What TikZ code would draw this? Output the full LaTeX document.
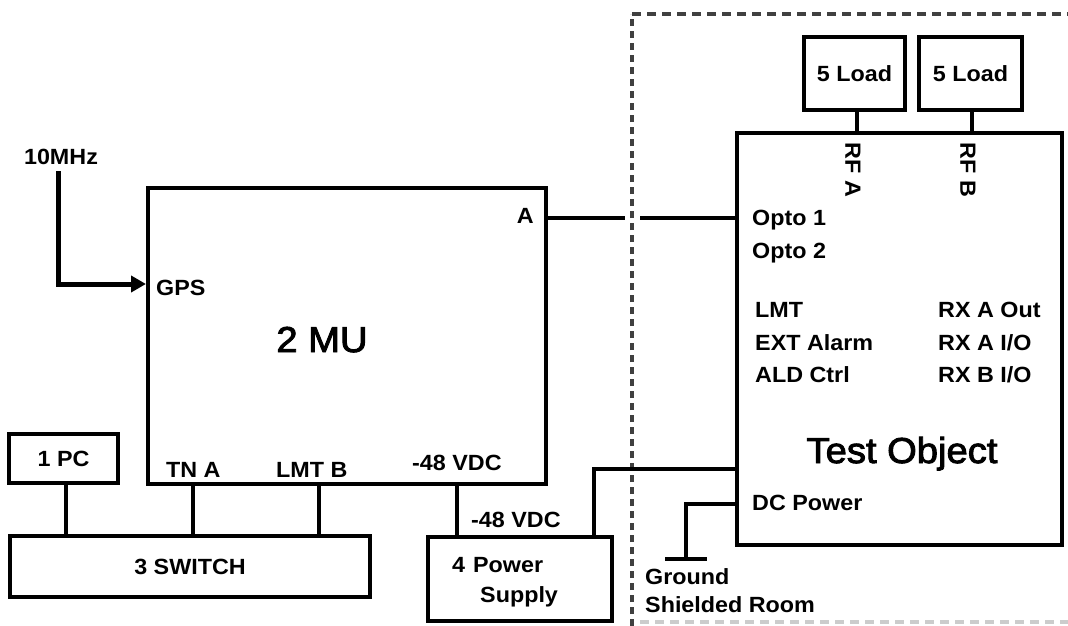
\documentclass[tikz,border=0pt]{standalone}
\usepackage{fontspec}
\setmainfont{Liberation Sans}[FakeStretch=1.06]
\newfontfamily\bigfam{Liberation Sans}[FakeStretch=1.06,FakeBold=2.5]
\usetikzlibrary{arrows.meta}
\newcommand{\smallfont}{\fontsize{22}{26}\selectfont\bfseries}
\newcommand{\bigfont}{\bigfam\fontsize{36}{42}\selectfont}
\begin{document}
\begin{tikzpicture}[x=1pt,y=-1pt,
  box/.style={draw, line width=4pt, rectangle, inner sep=0pt},
  wire/.style={line width=3.5pt},
  lbl/.style={inner sep=0pt, font=\smallfont},
  biglbl/.style={inner sep=0pt, font=\bigfont},
  shield/.style={draw=black!75, line width=3.5pt, dash pattern=on 9pt off 6pt}]
\useasboundingbox (0,0) rectangle (1068,626);
% boxes
\node[box, minimum width=398pt, minimum height=296pt] (mu) at (347,336) {};
\node[box, minimum width=109pt, minimum height=49pt, font=\smallfont] (pc) at (63.5,458.5) {1 PC};
\node[box, minimum width=360pt, minimum height=61pt, font=\smallfont] (sw) at (190,566.5) {3 SWITCH};
\node[box, minimum width=184pt, minimum height=84pt] (ps) at (520,579) {};
\node[box, minimum width=325pt, minimum height=412pt] (to) at (899.5,339) {};
\node[box, minimum width=101pt, minimum height=73pt, font=\smallfont] (la) at (854.5,73.5) {5 Load};
\node[box, minimum width=103pt, minimum height=73pt, font=\smallfont] (lb) at (970.5,73.5) {5 Load};
% shielded room boundary
\coordinate (sTop) at (632,14);
\coordinate (sBot) at (632,626);
\coordinate (sTR) at (1068,14);
\coordinate (sBL) at (640,622);
\coordinate (sBR) at (1068,622);
\draw[shield, dash pattern=on 7pt off 5pt] (sBot) -- (sTop);
\draw[shield] (sTop) -- (sTR);
\draw[shield, draw=black!20] (sBL) -- (sBR);
% labels
\node[lbl, anchor=center] (mhz) at (61,157) {10MHz};
\node[lbl, anchor=base west] (gps) at (156,295) {GPS};
\node[lbl, anchor=base east] (aa) at (534,223) {A};
\node[biglbl, anchor=base] (mulbl) at (322,352) {2 MU};
\node[lbl, anchor=base west] (tna) at (166,477) {TN A};
\node[lbl, anchor=base west] (lmtb) at (276,477) {LMT B};
\node[lbl, anchor=base west] (vdc1) at (412,470) {-48 VDC};
\node[lbl, anchor=base west] (vdc2) at (471,527) {-48 VDC};
\node[lbl, anchor=base west] (pw1) at (452,572) {4\hspace{8pt}Power};
\node[lbl, anchor=base west] (pw2) at (480,602) {Supply};
\node[lbl, anchor=base west] (op1) at (752,225) {Opto 1};
\node[lbl, anchor=base west] (op2) at (752,258) {Opto 2};
\node[lbl, anchor=base west] (lmt) at (755,317) {LMT};
\node[lbl, anchor=base west] (ext) at (755,350) {EXT Alarm};
\node[lbl, anchor=base west] (ald) at (755,382) {ALD Ctrl};
\node[lbl, anchor=base west] (rx1) at (938,317) {RX A Out};
\node[lbl, anchor=base west] (rx2) at (938,350) {RX A I/O};
\node[lbl, anchor=base west] (rx3) at (938,382) {RX B I/O};
\node[biglbl, anchor=base] (tolbl) at (902,463) {Test Object};
\node[lbl, anchor=base west] (dcp) at (752,510) {DC Power};
\node[lbl, anchor=base west] (gnd) at (645,584) {Ground};
\node[lbl, anchor=base west] (shr) at (645,612) {Shielded Room};
\node[lbl, rotate=-90] (rfa) at (853,170) {RF A};
\node[lbl, rotate=-90] (rfb) at (968,170) {RF B};
% helper coordinates
\coordinate (xPC) at (66,0);
\coordinate (xTN) at (193,0);
\coordinate (xLB) at (319,0);
\coordinate (xV) at (457,0);
\coordinate (xPS) at (594,0);
\coordinate (yDC) at (0,469);
\coordinate (yA) at (0,218);
\coordinate (gapL) at (625,218);
\coordinate (gapR) at (640,218);
\coordinate (xLa) at (857,0);
\coordinate (xLb) at (972,0);
\coordinate (yG) at (0,504);
\coordinate (gCorner) at (686,504);
\coordinate (gFoot) at (686,559);
\coordinate (gBarL) at (665,559);
\coordinate (gBarR) at (707,559);
\coordinate (mhzCorner) at (58,284);
\coordinate (mhzTop) at (58,171);
% connectors
\draw[wire] (pc.south -| xPC) -- (sw.north -| xPC);
\draw[wire] (mu.south -| xTN) -- (sw.north -| xTN);
\draw[wire] (mu.south -| xLB) -- (sw.north -| xLB);
\draw[wire] (mu.south -| xV) -- (ps.north -| xV);
\draw[wire] (ps.north -| xPS) |- (to.west |- yDC);
\draw[wire] (mu.east |- yA) -- (gapL);
\draw[wire] (gapR) -- (to.west |- yA);
\draw[wire] (la.south -| xLa) -- (to.north -| xLa);
\draw[wire] (lb.south -| xLb) -- (to.north -| xLb);
\draw[wire] (to.west |- yG) -- (gCorner) -- (gFoot);
\draw[wire] (gBarL) -- (gBarR);
\draw[line width=5pt, -{Triangle[length=15pt,width=16pt]}] (mhzTop) -- (mhzCorner) -- (mu.west |- mhzCorner);
\end{tikzpicture}
\end{document}
